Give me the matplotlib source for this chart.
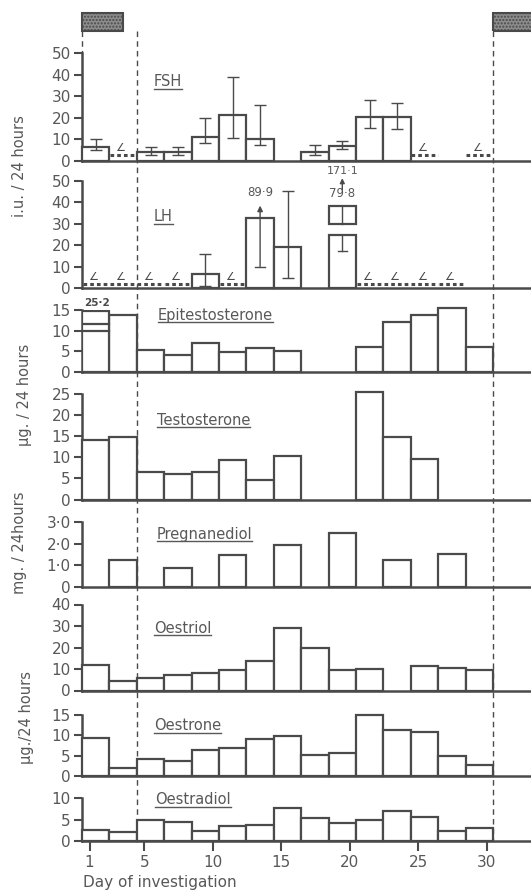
import matplotlib
matplotlib.use('Agg')
import matplotlib.pyplot as plt
from matplotlib.patches import Rectangle
from matplotlib.lines import Line2D
import numpy as np

# ---------------- data ----------------
bar_start_day = [1, 3, 5, 7, 9, 11, 13, 15, 17, 19, 21, 23, 25, 27, 29]
tick_days = [1, 5, 10, 15, 20, 25, 30]

N = None
# FSH (i.u./24 h): mean, error low, error high; "<" = below detection
fsh_mean = [6.7, N, 4.3, 4.3, 11.0, 21.5, 10.1, N, 4.2, 7.0, 20.4, 20.6, N, N, N]
fsh_lo   = [5.1, N, 2.8, 2.8, 8.4, 10.8, 7.3, N, 2.6, 5.4, 15.2, 14.7, N, N, N]
fsh_hi   = [10.4, N, 6.7, 6.7, 20.0, 38.7, 26.0, N, 7.6, 9.3, 28.2, 26.9, N, N, N]
fsh_below = [1, 12, 14]
fsh_limit = 2.6

# LH (i.u./24 h)
lh_mean = [N, N, N, N, 6.5, N, 32.6, 19.3, N, 79.8, N, N, N, N, N]
lh_lo   = [N, N, N, N, 0.9, N, 10.0, 4.8, N, 17.1, N, N, N, N, N]
lh_hi   = [N, N, N, N, 15.8, N, 89.9, 45.2, N, 171.1, N, N, N, N, N]
lh_below = [0, 1, 2, 3, 5, 10, 11, 12, 13]
lh_limit = 1.8

epitestosterone = [25.2, 13.9, 5.3, 4.2, 6.9, 4.9, 5.7, 5.0, N, N, 6.1, 12.0, 13.9, 15.4, 6.1]
testosterone = [14.2, 14.9, 6.6, 6.0, 6.5, 9.4, 4.6, 10.3, N, N, 25.4, 14.7, 9.6, N, N]
pregnanediol = [N, 1.26, N, 0.87, N, 1.46, N, 1.93, N, 2.5, N, 1.24, N, 1.54, N]
oestriol = [12.0, 4.5, 5.8, 7.2, 8.1, 9.7, 13.8, 28.9, 19.8, 9.4, 10.2, N, 11.6, 10.5, 9.4]
oestrone = [9.4, 2.0, 4.2, 3.7, 6.3, 6.9, 9.1, 9.9, 5.1, 5.7, 15.0, 11.3, 10.7, 5.0, 2.6]
oestradiol = [2.5, 2.1, 5.0, 4.5, 2.4, 3.5, 3.7, 7.8, 5.4, 4.1, 4.9, 7.1, 5.5, 2.2, 2.9]

menses = [(1, 4), (31, 34)]   # stippled periods (days)

# -------------- layout helpers --------------
W, H = 531, 894
fig = plt.figure(figsize=(W / 100, H / 100), dpi=100)
plt.rcParams['font.family'] = ['DejaVu Sans']

C = '#4a4a4a'
TC = '#585858'
LW = 1.6
BAR_OFF = 0.55          # bar starts this far left of its first day
PX_PER_DAY = 13.7
LEFT_PX = 82
X0 = 1 - BAR_OFF
X1 = X0 + (W - LEFT_PX) / PX_PER_DAY


def fx(px):
    return px / W


def fy(py):
    return 1 - py / H


def day_px(d):
    return LEFT_PX + (d - X0) * PX_PER_DAY


lefts = [d - BAR_OFF for d in bar_start_day]
centers = [l + 1 for l in lefts]


def dot(v):
    return ('%.1f' % v).replace('.', '\u00b7')


def make_ax(zero_px, top_px, top, ticks, labels, xt=False):
    ax = fig.add_axes([fx(LEFT_PX), fy(zero_px), 1 - fx(LEFT_PX), (zero_px - top_px) / H])
    ax.set_xlim(X0, X1)
    ax.set_ylim(0, top)
    ax.patch.set_alpha(0)
    for s in ['top', 'right']:
        ax.spines[s].set_visible(False)
    ax.spines['left'].set_bounds(0, top)
    for s in ['left', 'bottom']:
        ax.spines[s].set_color(C)
        ax.spines[s].set_linewidth(1.8)
    ax.set_yticks(ticks)
    ax.set_yticklabels(labels)
    ax.tick_params(axis='y', length=6, width=1.5, color=C, labelsize=11,
                   labelcolor=TC, pad=2)
    if xt:
        ax.set_xticks(tick_days)
        ax.set_xticklabels([str(t) for t in tick_days])
        ax.tick_params(axis='x', length=7, width=1.5, color=C, labelsize=11,
                       labelcolor=TC, pad=3)
    else:
        ax.set_xticks([])
    return ax


def bars(ax, vals, bottom=0):
    for l, v in zip(lefts, vals):
        if v is None:
            continue
        ax.bar(l, v, width=2, bottom=bottom, align='edge', facecolor='white',
               edgecolor=C, linewidth=LW, zorder=3, clip_on=False)


def errs(ax, idx, mean, lo, hi):
    for i in idx:
        c = centers[i]
        ax.errorbar([c], [mean[i]], yerr=[[mean[i] - lo[i]], [hi[i] - mean[i]]],
                    fmt='none', ecolor=C, elinewidth=1.0, capsize=4, capthick=1.0,
                    zorder=4)


def below(ax, idx, limit, lift):
    for i in idx:
        l = lefts[i]
        ax.plot([l + 0.05, l + 1.95], [limit, limit], ls=(0, (1.2, 1.0)), lw=2.2,
                color=C, zorder=3, solid_capstyle='butt')
        ax.text(centers[i] - 0.2, limit + lift, '\u2220', fontsize=8, color=C,
                ha='center', va='bottom', zorder=4)


def title(text, x_px, base_px, fs=10.5):
    t = fig.text(fx(x_px), fy(base_px), text, fontsize=fs, color=TC, va='baseline',
                 ha='left')
    r = fig.canvas.get_renderer()
    bb = t.get_window_extent(renderer=r)
    yy = (H - base_px - 2.5)
    fig.add_artist(Line2D([bb.x0 / W, bb.x1 / W], [yy / H, yy / H],
                          color=TC, lw=1.0, transform=fig.transFigure))


# -------------- FSH --------------
ax = make_ax(161, 53, 50, [0, 10, 20, 30, 40, 50], ['0', '10', '20', '30', '40', '50'])
bars(ax, fsh_mean)
errs(ax, [i for i, v in enumerate(fsh_mean) if v is not None], fsh_mean, fsh_lo, fsh_hi)
below(ax, fsh_below, fsh_limit, 1.0)
title('FSH', 154, 86.5)

# -------------- LH --------------
ax = make_ax(288, 181, 50, [0, 10, 20, 30, 40, 50], ['0', '10', '20', '30', '40', '50'])
LH_BREAK = (24.7, 30.0, 38.5)      # drawn heights of broken bar / arrow start
disp = [v if (v is not None and v <= 50) else None for v in lh_mean]
bars(ax, disp)
errs(ax, [4, 7], lh_mean, lh_lo, lh_hi)
below(ax, lh_below, lh_limit, 1.2)
# bar 7: upper error off-scale
i = 6
c = centers[i]
ax.plot([c - 0.35, c + 0.35], [lh_lo[i], lh_lo[i]], color=C, lw=1.0, zorder=4)
ax.annotate('', xy=(c, LH_BREAK[2]), xytext=(c, lh_lo[i]),
            arrowprops=dict(arrowstyle='-|>', color=C, lw=1.0, mutation_scale=8,
                            shrinkA=0, shrinkB=0), zorder=4, annotation_clip=False)
ax.text(c, 41.5, dot(lh_hi[i]), fontsize=8.5, color=TC, ha='center', va='bottom',
        clip_on=False)
# bar 10: mean off-scale, broken bar
i = 9
c = centers[i]
l = lefts[i]
ax.bar(l, LH_BREAK[0], width=2, align='edge', facecolor='white', edgecolor=C,
       linewidth=LW, zorder=3)
ax.bar(l, LH_BREAK[2] - LH_BREAK[1], bottom=LH_BREAK[1], width=2, align='edge',
       facecolor='white', edgecolor=C, linewidth=LW, zorder=3)
ax.plot([c, c], [LH_BREAK[1], LH_BREAK[2]], color=C, lw=1.0, zorder=4)
ax.plot([c, c], [lh_lo[i], LH_BREAK[0]], color=C, lw=1.0, zorder=4)
ax.plot([c - 0.35, c + 0.35], [lh_lo[i], lh_lo[i]], color=C, lw=1.0, zorder=4)
ax.text(c, 41.0, dot(lh_mean[i]), fontsize=8.5, color=TC, ha='center', va='bottom',
        clip_on=False)
ax.annotate('', xy=(c, 51.3), xytext=(c, 45.8),
            arrowprops=dict(arrowstyle='-|>', color=C, lw=1.0, mutation_scale=7,
                            shrinkA=0, shrinkB=0), annotation_clip=False)
ax.text(c, 52.3, dot(lh_hi[i]), fontsize=8, color=TC, ha='center', va='bottom',
        clip_on=False)
title('LH', 154, 221)

# -------------- Epitestosterone --------------
ax = make_ax(372, 310, 15, [0, 5, 10, 15], ['0', '5', '10', '15'])
EPI_BREAK = (10.0, 11.5, 14.7)
EPI_OFFSCALE = 20
disp = [v if (v is not None and v <= EPI_OFFSCALE) else None for v in epitestosterone]
bars(ax, disp)
for i, v in enumerate(epitestosterone):
    if v is not None and v > EPI_OFFSCALE:
        l = lefts[i]
        ax.bar(l, EPI_BREAK[2], width=2, align='edge', facecolor='white',
               edgecolor=C, linewidth=LW, zorder=3)
        ax.plot([l, l + 2], [EPI_BREAK[0]] * 2, color=C, lw=LW, zorder=4)
        ax.plot([l, l + 2], [EPI_BREAK[1]] * 2, color=C, lw=LW, zorder=4)
        ax.text(centers[i] + 0.1, 15.6, dot(v), fontsize=7.5, fontweight='bold',
                color=C, ha='center', va='bottom', clip_on=False)
title('Epitestosterone', 157.5, 319.8)

# -------------- Testosterone --------------
ax = make_ax(499.5, 394, 25, [0, 5, 10, 15, 20, 25], ['0', '5', '10', '15', '20', '25'])
bars(ax, testosterone)
title('Testosterone', 157, 424.8)

# -------------- Pregnanediol --------------
ax = make_ax(587, 522, 3.0, [0, 1, 2, 3], ['0', '1\u00b70', '2\u00b70', '3\u00b70'])
bars(ax, pregnanediol)
title('Pregnanediol', 156.5, 538.6)

# -------------- Oestriol --------------
ax = make_ax(690.5, 604.5, 40, [0, 10, 20, 30, 40], ['0', '10', '20', '30', '40'])
bars(ax, oestriol)
title('Oestriol', 154, 632.9)

# -------------- Oestrone --------------
ax = make_ax(776, 715, 15, [0, 5, 10, 15], ['0', '5', '10', '15'])
bars(ax, oestrone)
title('Oestrone', 154, 730)

# -------------- Oestradiol --------------
ax = make_ax(840.7, 798.3, 10, [0, 5, 10], ['0', '5', '10'], xt=True)
bars(ax, oestradiol)
title('Oestradiol', 155, 804)

# -------------- axis labels --------------
fig.text(fx(83), fy(882), 'Day of investigation', fontsize=11, color=TC,
         ha='left', va='center')
for txt, x, y in [('i.u. / 24 hours', 20, 166), ('\u00b5g. / 24 hours', 25, 395),
                  ('mg. / 24hours', 20, 543), ('\u00b5g./24 hours', 27, 717)]:
    fig.text(fx(x), fy(y), txt, rotation=90, fontsize=10.5, color=TC,
             ha='center', va='center')

# -------------- menses boxes & dashed lines --------------
for a, b in menses:
    xa = day_px(a - BAR_OFF)
    xb = min(day_px(b - BAR_OFF), W + 5)
    fig.add_artist(Rectangle((fx(xa), fy(31)), fx(xb) - fx(xa), (31 - 12.5) / H,
                             transform=fig.transFigure, facecolor='#8c8c8c',
                             edgecolor='#4a4a4a', hatch='.....', linewidth=0))
    fig.add_artist(Rectangle((fx(xa), fy(31)), fx(xb) - fx(xa), (31 - 12.5) / H,
                             transform=fig.transFigure, fill=False,
                             edgecolor=C, linewidth=1.5))
# dashed lines at menses boundaries
x_l = day_px(menses[0][0] - BAR_OFF)
fig.add_artist(Line2D([fx(x_l)] * 2, [fy(31), fy(53)], transform=fig.transFigure,
                      color=C, lw=1.0, ls=(0, (4, 3)), zorder=-1))
for d in [menses[0][1] + 1, menses[1][0]]:
    xd = day_px(d - BAR_OFF)
    fig.add_artist(Line2D([fx(xd)] * 2, [fy(31), fy(840)], transform=fig.transFigure,
                          color=C, lw=1.0, ls=(0, (4, 3)), zorder=-1))

fig.savefig('out.png', dpi=100, facecolor='white')
